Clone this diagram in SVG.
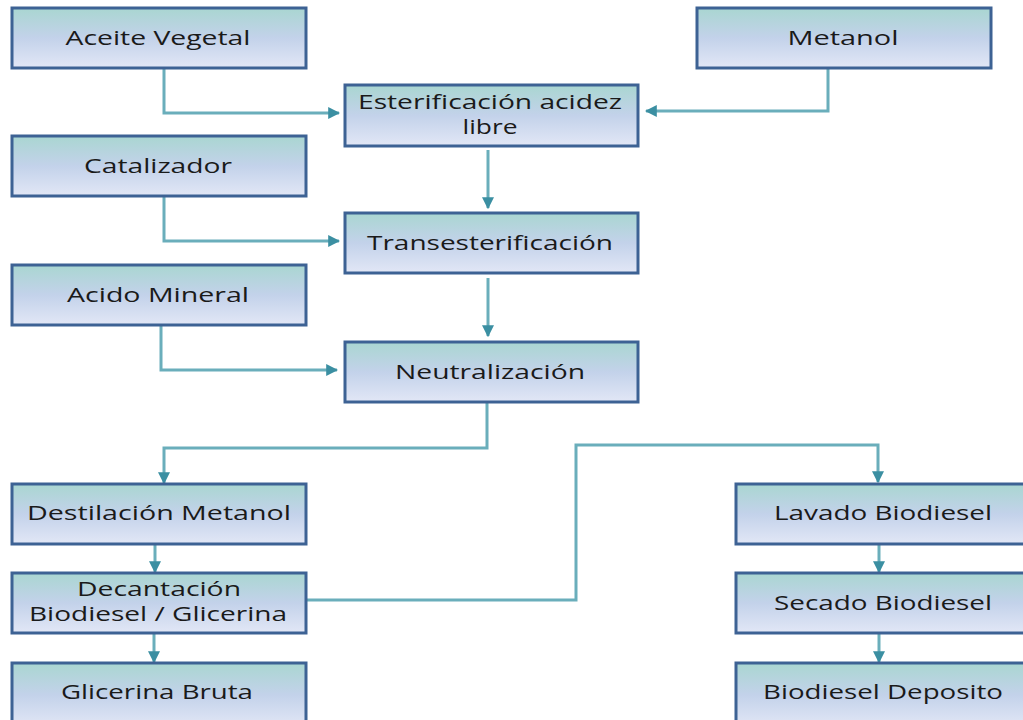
<svg xmlns="http://www.w3.org/2000/svg" width="1023" height="720" viewBox="0 0 1023 720">
<defs>
<linearGradient id="g" x1="0" y1="0" x2="0" y2="1">
<stop offset="0" stop-color="#a9d6d1"/>
<stop offset="0.5" stop-color="#c3d2ea"/>
<stop offset="1" stop-color="#e2e7f6"/>
</linearGradient>
<marker id="ah" viewBox="0 0 10 10" refX="9" refY="5" markerWidth="4" markerHeight="4" orient="auto" markerUnits="strokeWidth">
<path d="M0,0 L10,5 L0,10 z" fill="#3b8fa2"/>
</marker>
<style>
.box{fill:url(#g);stroke:#3d6294;stroke-width:3}
.t{font-family:"Open Sans","Liberation Sans",sans-serif;font-size:20px;fill:#1a1a1a;text-anchor:middle}
.c{fill:none;stroke:#6aaebb;stroke-width:3;stroke-linejoin:miter}
</style>
</defs>
<rect width="1023" height="720" fill="#ffffff"/>
<g id="connectors">
<path class="c" d="M164,68 V113 H339" marker-end="url(#ah)"/>
<path class="c" d="M828,68 V111 H646" marker-end="url(#ah)"/>
<path class="c" d="M488,150 V208" marker-end="url(#ah)"/>
<path class="c" d="M164,196 V241 H339" marker-end="url(#ah)"/>
<path class="c" d="M488,278 V336" marker-end="url(#ah)"/>
<path class="c" d="M161,325 V370 H337" marker-end="url(#ah)"/>
<path class="c" d="M487,402 V448 H164 V483" marker-end="url(#ah)"/>
<path class="c" d="M155,544 V572" marker-end="url(#ah)"/>
<path class="c" d="M154,633 V662" marker-end="url(#ah)"/>
<path class="c" d="M306,600 H576 V445 H878 V482" marker-end="url(#ah)"/>
<path class="c" d="M879,544 V572" marker-end="url(#ah)"/>
<path class="c" d="M879,633 V662" marker-end="url(#ah)"/>
</g>
<g id="n-aceite"><rect class="box" x="12" y="8" width="294" height="60"/><text class="t" x="158" y="45" textLength="185" lengthAdjust="spacingAndGlyphs">Aceite Vegetal</text></g>
<g id="n-metanol"><rect class="box" x="697" y="8" width="294" height="60"/><text class="t" x="843" y="45" textLength="111" lengthAdjust="spacingAndGlyphs">Metanol</text></g>
<g id="n-esterificacion"><rect class="box" x="345" y="85" width="293" height="61"/><text class="t" x="490" y="109" textLength="264" lengthAdjust="spacingAndGlyphs">Esterificación acidez</text><text class="t" x="490" y="134" textLength="55" lengthAdjust="spacingAndGlyphs">libre</text></g>
<g id="n-catalizador"><rect class="box" x="12" y="136" width="294" height="60"/><text class="t" x="158" y="173" textLength="148" lengthAdjust="spacingAndGlyphs">Catalizador</text></g>
<g id="n-transesterificacion"><rect class="box" x="345" y="213" width="293" height="60"/><text class="t" x="490" y="250" textLength="246" lengthAdjust="spacingAndGlyphs">Transesterificación</text></g>
<g id="n-acido"><rect class="box" x="12" y="265" width="294" height="60"/><text class="t" x="158" y="302" textLength="182" lengthAdjust="spacingAndGlyphs">Acido Mineral</text></g>
<g id="n-neutralizacion"><rect class="box" x="345" y="342" width="293" height="60"/><text class="t" x="490" y="379" textLength="190" lengthAdjust="spacingAndGlyphs">Neutralización</text></g>
<g id="n-destilacion"><rect class="box" x="12" y="484" width="294" height="60"/><text class="t" x="159" y="520" textLength="264" lengthAdjust="spacingAndGlyphs">Destilación Metanol</text></g>
<g id="n-decantacion"><rect class="box" x="12" y="573" width="294" height="60"/><text class="t" x="159" y="596" textLength="164" lengthAdjust="spacingAndGlyphs">Decantación</text><text class="t" x="158" y="621" textLength="258" lengthAdjust="spacingAndGlyphs">Biodiesel / Glicerina</text></g>
<g id="n-glicerina"><rect class="box" x="12" y="663" width="294" height="64"/><text class="t" x="157" y="699" textLength="192" lengthAdjust="spacingAndGlyphs">Glicerina Bruta</text></g>
<g id="n-lavado"><rect class="box" x="736" y="484" width="294" height="60"/><text class="t" x="883" y="520" textLength="218" lengthAdjust="spacingAndGlyphs">Lavado Biodiesel</text></g>
<g id="n-secado"><rect class="box" x="736" y="573" width="294" height="60"/><text class="t" x="883" y="610" textLength="218" lengthAdjust="spacingAndGlyphs">Secado Biodiesel</text></g>
<g id="n-deposito"><rect class="box" x="736" y="663" width="294" height="64"/><text class="t" x="883" y="699" textLength="240" lengthAdjust="spacingAndGlyphs">Biodiesel Deposito</text></g>
</svg>
